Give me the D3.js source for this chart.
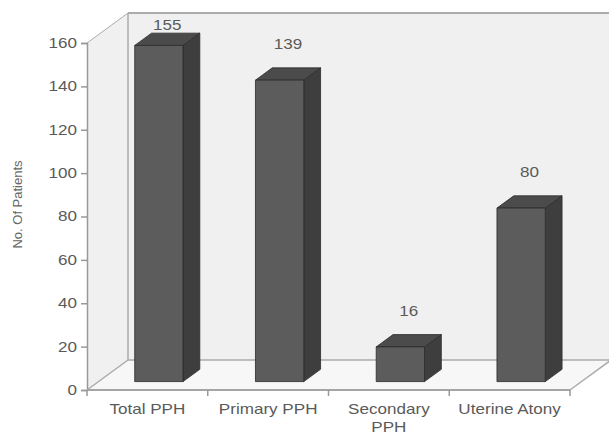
<!DOCTYPE html>
<html>
<head>
<meta charset="utf-8">
<script src="https://cdn.jsdelivr.net/npm/d3@7"></script>
<style>
  html, body { margin: 0; padding: 0; background: #fff; }
  svg { display: block; font-family: "Liberation Sans", Arial, sans-serif; }
</style>
</head>
<body>
<svg id="chart" width="609" height="434"></svg>
<script>
// PPH case counts
const categories = ["Total PPH", "Primary PPH", "Secondary PPH", "Uterine Atony"];
const patients = [155, 139, 16, 80];
const yTicks = [0, 20, 40, 60, 80, 100, 120, 140, 160];
const yTitle = "No. Of Patients";

const plotL = 87, plotR = 570, plotB = 390, plotT = 43;
const depth = { dx: 41, dy: -30 };        // full floor depth
const barZ0 = 0.28, barZ = 0.41;          // bar start / thickness as depth fractions
const stretch = 1.22;                      // horizontal widening of the text

const svg = d3.select("#chart");

const x = d3.scaleBand().domain(categories).range([plotL, plotR])
  .paddingInner(0.6).paddingOuter(0.3);
const y = d3.scaleLinear().domain([0, 160]).range([plotB, plotT]);

const backL = plotL + depth.dx, backB = plotB + depth.dy, backT = plotT + depth.dy;
const backR = plotR + depth.dx;

// walls and floor
svg.append("rect").attr("x", backL).attr("y", backT)
  .attr("width", backR - backL).attr("height", backB - backT).attr("fill", "#f0f0f0");
svg.append("polygon")
  .attr("points", [[plotL, plotT], [backL, backT], [backL, backB], [plotL, plotB]].join(" "))
  .attr("fill", "#f0f0f0");
svg.append("polygon")
  .attr("points", [[plotL, plotB], [backL, backB], [backR, backB], [plotR, plotB]].join(" "))
  .attr("fill", "#f7f7f7");

const grid = svg.append("g").attr("stroke", "#ababab").attr("fill", "none");
grid.append("line").attr("x1", backL).attr("y1", backT).attr("x2", backR).attr("y2", backT).attr("stroke-width", 2);
grid.append("line").attr("x1", backL).attr("y1", backT).attr("x2", backL).attr("y2", backB).attr("stroke-width", 1.5);
grid.append("line").attr("x1", backL).attr("y1", backB).attr("x2", backR).attr("y2", backB).attr("stroke-width", 1.5);
grid.append("line").attr("x1", plotL).attr("y1", plotT).attr("x2", backL).attr("y2", backT);
grid.append("line").attr("x1", plotL).attr("y1", plotB).attr("x2", backL).attr("y2", backB).attr("stroke-width", 1.5);
grid.append("line").attr("x1", plotR).attr("y1", plotB).attr("x2", backR).attr("y2", backB).attr("stroke-width", 1.5);

// value axis
const yAxis = svg.append("g").attr("transform", `translate(${plotL},0)`)
  .call(d3.axisLeft(y).tickValues(yTicks).tickSize(6).tickPadding(4).tickFormat(d3.format("d")));
yAxis.select(".domain").attr("stroke", "#999").attr("stroke-width", 1.5);
yAxis.selectAll(".tick line").attr("stroke", "#999").attr("stroke-width", 1.5);
yAxis.selectAll(".tick text").each(function () {
  const t = d3.select(this);
  const tx = +t.attr("x");
  t.attr("x", 0).attr("transform", `translate(${tx},0) scale(${stretch},1)`);
}).attr("font-size", 14).attr("fill", "#5a5a5a").attr("font-family", "Liberation Sans, Arial, sans-serif");

// category axis
svg.append("line").attr("x1", plotL).attr("y1", plotB).attr("x2", plotR).attr("y2", plotB)
  .attr("stroke", "#a5a5a5").attr("stroke-width", 2);
const step = x.step();
svg.append("g").selectAll("line").data(d3.range(categories.length + 1)).join("line")
  .attr("x1", i => plotL + i * step).attr("x2", i => plotL + i * step)
  .attr("y1", plotB).attr("y2", plotB + 6)
  .attr("stroke", "#999").attr("stroke-width", 1.5);

// category labels, wrapped when wider than the slot
const catG = svg.append("g").attr("font-size", 14).attr("fill", "#5a5a5a");
categories.forEach((c, ci) => {
  const words = c.split(" ");
  const lines = [];
  let cur = "";
  const probe = catG.append("text").attr("visibility", "hidden");
  words.forEach(w => {
    const trial = cur ? cur + " " + w : w;
    probe.text(trial);
    if (cur && probe.node().getComputedTextLength() * stretch > 112) { lines.push(cur); cur = w; }
    else cur = trial;
  });
  lines.push(cur);
  probe.remove();
  lines.forEach((ln, i) => {
    catG.append("text")
      .attr("text-anchor", "middle")
      .attr("transform", `translate(${plotL + (ci + 0.5) * step},${414 + i * 18}) scale(${stretch},1)`)
      .text(ln);
  });
});

// axis title
svg.append("text")
  .attr("transform", `translate(22,${(plotT + plotB) / 2 - 12}) rotate(-90)`)
  .attr("text-anchor", "middle").attr("font-size", 13).attr("fill", "#666")
  .text(yTitle);

// 3D bars
const ox = barZ0 * depth.dx, oy = barZ0 * depth.dy;
const bx = barZ * depth.dx, by = barZ * depth.dy;
const bars = svg.append("g").attr("stroke", "#2b2b2b").attr("stroke-width", 0.8).attr("stroke-linejoin", "round");
categories.forEach((c, i) => {
  const x0 = x(c) + ox, x1 = x0 + x.bandwidth();
  const y0 = y(0) + oy, y1 = y(patients[i]) + oy;
  bars.append("polygon").attr("fill", "#3e3e3e")
    .attr("points", [[x1, y1], [x1 + bx, y1 + by], [x1 + bx, y0 + by], [x1, y0]].join(" "));
  bars.append("polygon").attr("fill", "#4b4b4b")
    .attr("points", [[x0, y1], [x0 + bx, y1 + by], [x1 + bx, y1 + by], [x1, y1]].join(" "));
  bars.append("rect").attr("fill", "#5c5c5c")
    .attr("x", x0).attr("y", y1).attr("width", x1 - x0).attr("height", y0 - y1);

  const ly = Math.max(y1 - 36, backT + 12) + 5;
  svg.append("text")
    .attr("text-anchor", "middle").attr("font-size", 14).attr("fill", "#5a5a5a")
    .attr("transform", `translate(${(x0 + x1) / 2 + bx / 2},${ly}) scale(${stretch},1)`)
    .text(patients[i]);
});
</script>
</body>
</html>
